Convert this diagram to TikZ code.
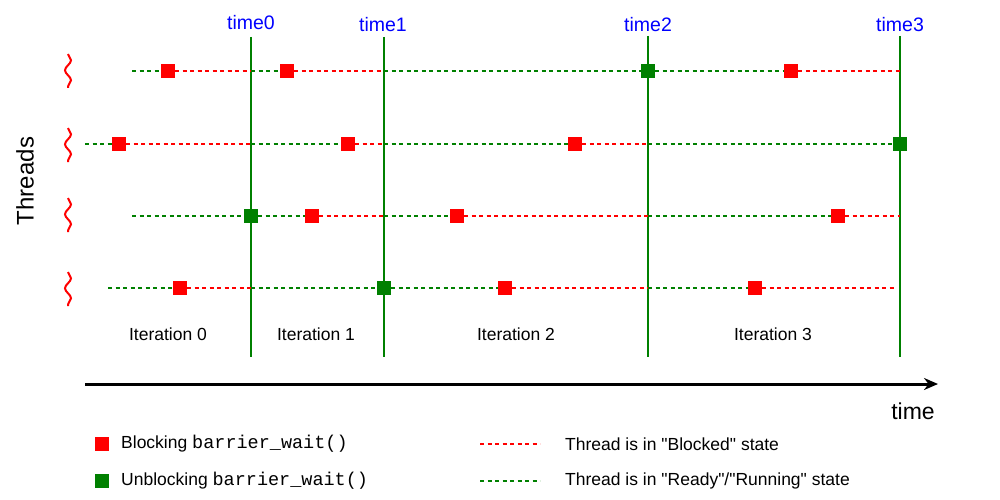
\documentclass[tikz,border=0pt]{standalone}
\usepackage{fontspec}
\setmainfont{Liberation Sans}
\setmonofont{Liberation Mono}
\usetikzlibrary{arrows.meta,decorations.pathmorphing}
\definecolor{blockred}{RGB}{255,0,0}
\definecolor{rungreen}{RGB}{0,128,0}
\definecolor{tblue}{RGB}{0,0,255}

\begin{document}
\begin{tikzpicture}[x=1pt,y=-1pt,>={Stealth[length=14pt,width=12pt]},
  wait/.style={draw=blockred,line width=2pt,dash pattern=on 4pt off 3.5pt},
  run/.style={draw=rungreen,line width=2pt,dash pattern=on 4pt off 3.5pt},
  blk/.style={fill=blockred,minimum size=14pt,inner sep=0pt},
  unblk/.style={fill=rungreen,minimum size=14pt,inner sep=0pt},
  barrier/.style={draw=rungreen,line width=2.4pt},
  tlabel/.style={text=tblue,font=\fontsize{19.5}{22}\selectfont},
  iter/.style={font=\fontsize{17.5}{20}\selectfont},
  legend/.style={anchor=west,inner sep=0pt,font=\fontsize{17.5}{20}\selectfont},
  wavy/.style={draw=blockred,line width=2pt,decorate,decoration={snake,amplitude=3pt,segment length=20pt}}]
\useasboundingbox (0,0) rectangle (1000,500);

% barriers
\node[tlabel] (time0) at (251,23) {time0};
\node[tlabel] (time1) at (383,25) {time1};
\node[tlabel] (time2) at (648,25) {time2};
\node[tlabel] (time3) at (900,25) {time3};
\coordinate (b0top) at (251,37); \coordinate (b0bot) at (251,357);
\coordinate (b1top) at (384,37); \coordinate (b1bot) at (384,357);
\coordinate (b2top) at (648,36); \coordinate (b2bot) at (648,357);
\coordinate (b3top) at (900,36); \coordinate (b3bot) at (900,357);
\draw[barrier] (b0top) -- (b0bot);
\draw[barrier] (b1top) -- (b1bot);
\draw[barrier] (b2top) -- (b2bot);
\draw[barrier] (b3top) -- (b3bot);

% thread 1
\coordinate (r1s) at (132,71);
\node[blk] (q11) at (168,71) {};
\coordinate (r1b0) at (251,71);
\node[blk] (q12) at (287,71) {};
\coordinate (r1b1) at (384,71);
\node[unblk] (q13) at (648,71) {};
\node[blk] (q14) at (791,71) {};
\coordinate (r1e) at (900,71);
\draw[run] (r1s) -- (q11);
\draw[wait] (q11) -- (r1b0);
\draw[run] (r1b0) -- (q12);
\draw[wait] (q12) -- (r1b1);
\draw[run] (r1b1) -- (q13);
\draw[run] (q13) -- (q14);
\draw[wait] (q14) -- (r1e);

% thread 2
\coordinate (r2s) at (85,144);
\node[blk] (q21) at (119,144) {};
\coordinate (r2b0) at (251,144);
\node[blk] (q22) at (348,144) {};
\coordinate (r2b1) at (384,144);
\node[blk] (q23) at (575,144) {};
\coordinate (r2b2) at (648,144);
\node[unblk] (q24) at (900,144) {};
\draw[run] (r2s) -- (q21);
\draw[wait] (q21) -- (r2b0);
\draw[run] (r2b0) -- (q22);
\draw[wait] (q22) -- (r2b1);
\draw[run] (r2b1) -- (q23);
\draw[wait] (q23) -- (r2b2);
\draw[run] (r2b2) -- (q24);

% thread 3
\coordinate (r3s) at (132,216);
\node[unblk] (q31) at (251,216) {};
\node[blk] (q32) at (312,216) {};
\coordinate (r3b1) at (384,216);
\node[blk] (q33) at (457,216) {};
\coordinate (r3b2) at (648,216);
\node[blk] (q34) at (838,216) {};
\coordinate (r3e) at (900,216);
\draw[run] (r3s) -- (q31);
\draw[run] (q31) -- (q32);
\draw[wait] (q32) -- (r3b1);
\draw[run] (r3b1) -- (q33);
\draw[wait] (q33) -- (r3b2);
\draw[run] (r3b2) -- (q34);
\draw[wait] (q34) -- (r3e);

% thread 4
\coordinate (r4s) at (108,288);
\node[blk] (q41) at (180,288) {};
\coordinate (r4b0) at (251,288);
\node[unblk] (q42) at (384,288) {};
\node[blk] (q43) at (505,288) {};
\coordinate (r4b2) at (648,288);
\node[blk] (q44) at (755,288) {};
\coordinate (r4e) at (897,288);
\draw[run] (r4s) -- (q41);
\draw[wait] (q41) -- (r4b0);
\draw[run] (r4b0) -- (q42);
\draw[run] (q42) -- (q43);
\draw[wait] (q43) -- (r4b2);
\draw[run] (r4b2) -- (q44);
\draw[wait] (q44) -- (r4e);

% threads axis
\node[rotate=90,font=\fontsize{24}{28}\selectfont] (threads) at (25,181) {Threads};
\coordinate (w1a) at (68,54);  \coordinate (w1b) at (68,88);
\coordinate (w2a) at (68,128); \coordinate (w2b) at (68,162);
\coordinate (w3a) at (68,198); \coordinate (w3b) at (68,232);
\coordinate (w4a) at (68,272); \coordinate (w4b) at (68,306);
\draw[wavy] (w1a) -- (w1b);
\draw[wavy] (w2a) -- (w2b);
\draw[wavy] (w3a) -- (w3b);
\draw[wavy] (w4a) -- (w4b);

% iterations and time axis
\node[iter] (it0) at (168,334) {Iteration 0};
\node[iter] (it1) at (316,334) {Iteration 1};
\node[iter] (it2) at (516,334) {Iteration 2};
\node[iter] (it3) at (773,334) {Iteration 3};
\coordinate (ax0) at (85,384);
\coordinate (ax1) at (938,384);
\draw[->,line width=3pt] (ax0) -- (ax1);
\node[font=\fontsize{23}{26}\selectfont] (timelbl) at (913,411) {time};

% legend
\node[blk] (lgblk) at (102,444) {};
\node[unblk] (lgunblk) at (102,481) {};
\node[legend] (lgblkt) at (121,444) {Blocking {\fontsize{18.5}{20}\selectfont\texttt{barrier\_wait()}}};
\node[legend] (lgunblkt) at (121,481) {Unblocking {\fontsize{18.5}{20}\selectfont\texttt{barrier\_wait()}}};
\coordinate (lgw0) at (480,444); \coordinate (lgw1) at (540,444);
\coordinate (lgr0) at (480,481); \coordinate (lgr1) at (540,481);
\draw[wait] (lgw0) -- (lgw1);
\draw[run] (lgr0) -- (lgr1);
\node[legend] (lgwt) at (565,444) {Thread is in \textquotedbl Blocked\textquotedbl{} state};
\node[legend] (lgrt) at (565,481) {Thread is in \textquotedbl Ready\textquotedbl/\textquotedbl Running\textquotedbl{} state};

\end{tikzpicture}
\end{document}
